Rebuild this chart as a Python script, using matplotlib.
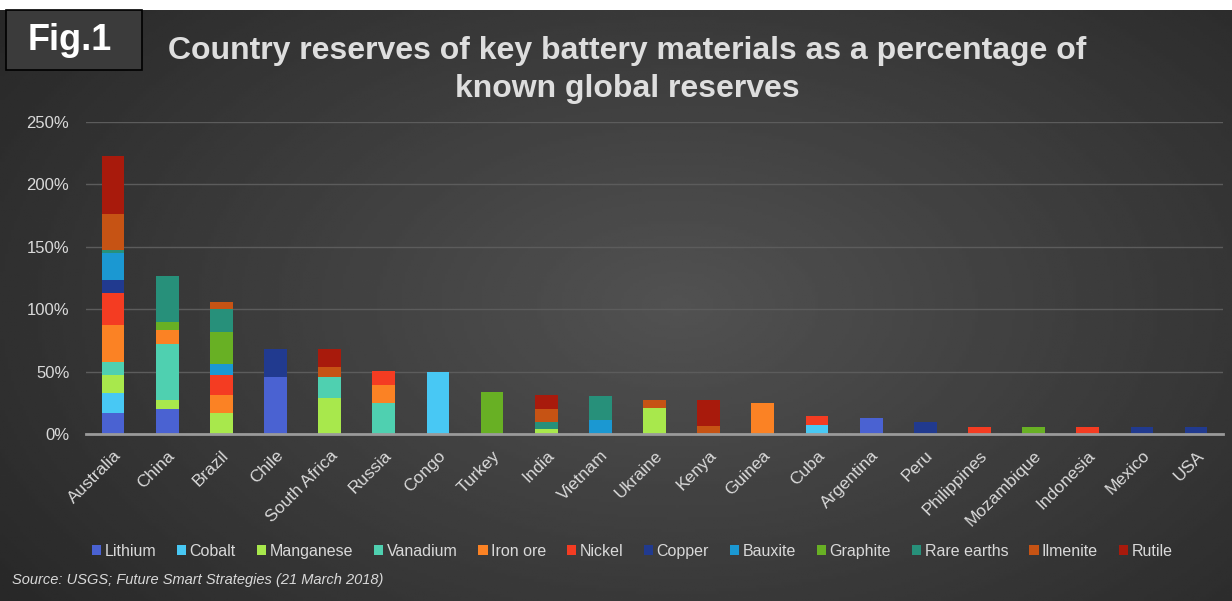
import numpy
import matplotlib as mpl
mpl.use('Agg')
import matplotlib.pyplot as plt
import matplotlib.patches as patches

#
#--- countries (x axis) and the materials (stack order, bottom to top)
#
countries = ['Australia', 'China', 'Brazil', 'Chile', 'South Africa', 'Russia', 'Congo',
             'Turkey', 'India', 'Vietnam', 'Ukraine', 'Kenya', 'Guinea', 'Cuba', 'Argentina',
             'Peru', 'Philippines', 'Mozambique', 'Indonesia', 'Mexico', 'USA']

materials = ['Lithium', 'Cobalt', 'Manganese', 'Vanadium', 'Iron ore', 'Nickel', 'Copper',
             'Bauxite', 'Graphite', 'Rare earths', 'Ilmenite', 'Rutile']

#
#--- percentage of known global reserves
#
lithium     = [16.6, 20.0,  0.0, 45.9,  0.0,  0.0,  0.0,  0.0,  0.0,  0.0,  0.0,  0.0,  0.0,  0.0, 12.6,  0.0, 0.0, 0.0, 0.0, 0.0, 0.0]
cobalt      = [16.0,  0.0,  0.0,  0.0,  0.0,  0.0, 49.7,  0.0,  0.0,  0.0,  0.0,  0.0,  0.0,  6.9,  0.0,  0.0, 0.0, 0.0, 0.0, 0.0, 0.0]
manganese   = [15.0,  7.2, 16.6,  0.0, 29.1,  0.0,  0.0,  0.0,  4.2,  0.0, 20.5,  0.0,  0.0,  0.0,  0.0,  0.0, 0.0, 0.0, 0.0, 0.0, 0.0]
vanadium    = [10.4, 44.9,  0.0,  0.0, 16.8, 24.8,  0.0,  0.0,  0.0,  0.0,  0.0,  0.0,  0.0,  0.0,  0.0,  0.0, 0.0, 0.0, 0.0, 0.0, 0.0]
iron_ore    = [29.0, 11.2, 14.7,  0.0,  0.0, 14.4,  0.0,  0.0,  0.0,  0.0,  0.0,  0.0, 24.8,  0.0,  0.0,  0.0, 0.0, 0.0, 0.0, 0.0, 0.0]
nickel      = [25.6,  0.0, 16.3,  0.0,  0.0, 11.2,  0.0,  0.0,  0.0,  0.0,  0.0,  0.0,  0.0,  7.8,  0.0,  0.0, 5.9, 0.0, 5.9, 0.0, 0.0]
copper      = [11.2,  0.0,  0.0, 22.0,  0.0,  0.0,  0.0,  0.0,  0.0,  0.0,  0.0,  0.0,  0.0,  0.0,  0.0,  9.9, 0.0, 0.0, 0.0, 5.6, 5.6]
bauxite     = [21.3,  0.0,  8.6,  0.0,  0.0,  0.0,  0.0,  0.0,  0.0, 10.9,  0.0,  0.0,  0.0,  0.0,  0.0,  0.0, 0.0, 0.0, 0.0, 0.0, 0.0]
graphite    = [ 0.0,  6.2, 25.6,  0.0,  0.0,  0.0,  0.0, 33.3,  0.0,  0.0,  0.0,  0.0,  0.0,  0.0,  0.0,  0.0, 0.0, 5.9, 0.0, 0.0, 0.0]
rare_earths = [ 2.0, 37.3, 18.7,  0.0,  0.0,  0.0,  0.0,  0.0,  5.8, 19.8,  0.0,  0.0,  0.0,  0.0,  0.0,  0.0, 0.0, 0.0, 0.0, 0.0, 0.0]
ilmenite    = [29.4,  0.0,  5.4,  0.0,  7.5,  0.0,  0.0,  0.0, 10.2,  0.0,  7.0,  6.1,  0.0,  0.0,  0.0,  0.0, 0.0, 0.0, 0.0, 0.0, 0.0]
rutile      = [46.7,  0.0,  0.0,  0.0, 14.4,  0.0,  0.0,  0.0, 11.2,  0.0,  0.0, 21.4,  0.0,  0.0,  0.0,  0.0, 0.0, 0.0, 0.0, 0.0, 0.0]

yticks       = [0, 50, 100, 150, 200, 250]
ytick_labels = ['0%', '50%', '100%', '150%', '200%', '250%']

colors = ['#4a62d2', '#48c8f4', '#a8e84c', '#4fd0b0', '#fb8224', '#f43c22',
          '#213a8f', '#1b98d2', '#68b024', '#27907a', '#c65314', '#a81a0c']

title  = 'Country reserves of key battery materials as a percentage of\nknown global reserves'
source = 'Source: USGS; Future Smart Strategies (21 March 2018)'

tcolor = '#d9d9d9'

#-------------------------------------------------------------------------------
#-- add_background: dark radial gradient behind the whole figure             ---
#-------------------------------------------------------------------------------

def add_background(fig):
    """
    draw a dark gray radial gradient as the figure background
    input:  fig --- figure
    output: none
    """
    bx = fig.add_axes([0, 0, 1, 591.0/601.0], zorder=-10)
    xx, yy = numpy.meshgrid(numpy.linspace(-1, 1, 400), numpy.linspace(-1, 1, 200))
    rr = numpy.sqrt((xx - 0.1)**2 + (0.8 * yy)**2)
    grad = 0.32 - 0.12 * rr
    bx.imshow(grad, cmap='gray', vmin=0, vmax=1, aspect='auto', extent=[0, 1, 0, 1])
    bx.set_axis_off()

#-------------------------------------------------------------------------------
#-- plot_data: stacked bar chart of reserves                                 ---
#-------------------------------------------------------------------------------

def plot_data():
    """
    create stacked bar chart of country reserves of battery materials
    input:  none
    output: out.png
    """
    series = [lithium, cobalt, manganese, vanadium, iron_ore, nickel, copper,
              bauxite, graphite, rare_earths, ilmenite, rutile]

    fig = plt.figure(figsize=(12.32, 6.01), dpi=100)
    fig.patch.set_facecolor('white')
    add_background(fig)

    ax = fig.add_axes([0.0698, 0.2779, 0.923, 0.519])
    ax.patch.set_alpha(0)

    xpos   = numpy.arange(len(countries))
    bottom = numpy.zeros(len(countries))
    for name, vals, col in zip(materials, series, colors):
        vals = numpy.array(vals)
        ax.bar(xpos, vals, 0.42, bottom=bottom, color=col, label=name, zorder=3)
        bottom += vals
#
#--- axes setting
#
    ax.set_xlim(-0.5, len(countries) - 0.5)
    ax.set_ylim(0, 250)
    ax.set_yticks(yticks)
    ax.set_yticklabels(ytick_labels, color=tcolor, fontsize=12, family='Liberation Sans')
    ax.set_xticks(xpos)
    ax.set_xticklabels(countries, rotation=45, ha='right', rotation_mode='anchor',
                       color=tcolor, fontsize=12.5, family='Liberation Sans')
    ax.tick_params(axis='both', length=0)
    ax.tick_params(axis='x', pad=10)
    ax.tick_params(axis='y', pad=12)

    for s in ['top', 'right', 'left']:
        ax.spines[s].set_visible(False)
    ax.spines['bottom'].set_color('#9a9a9a')
    ax.spines['bottom'].set_linewidth(2)
    ax.spines['bottom'].set_zorder(4)

    ax.grid(axis='y', color='#5c5c5c', lw=1, zorder=0)
    ax.set_axisbelow(True)
#
#--- legend
#
    leg = fig.legend(loc='center', bbox_to_anchor=(0.513, 0.083), ncol=12, frameon=False,
                     handlelength=0.6, handleheight=0.6, handletextpad=0.2,
                     columnspacing=1.3, prop={'family': 'Liberation Sans', 'size': 11.5})
    for t in leg.get_texts():
        t.set_color(tcolor)
#
#--- title, fig number box and source
#
    fig.text(0.509, 1 - 70.0/601, title, ha='center', va='center', color='#dedede', fontsize=23,
             fontweight='bold', family='Liberation Sans', linespacing=1.38)

    box = patches.Rectangle((6.0/1232, 1 - 70.0/601), 136.0/1232, 60.0/601, transform=fig.transFigure,
                            facecolor='#3b3b3b', edgecolor='black', lw=1.2, zorder=5)
    fig.patches.append(box)
    fig.text(70.0/1232, 1 - 40.0/601, 'Fig.1', ha='center', va='center', color='white',
             fontsize=26, fontweight='bold', family='Liberation Sans', zorder=6)

    fig.text(12.0/1232, 1 - 580.0/601, source, ha='left', va='center', color=tcolor,
             fontsize=10.5, style='italic', family='Liberation Sans')

    plt.savefig('out.png', dpi=100, facecolor=fig.get_facecolor())
    plt.close('all')


if __name__ == '__main__':

    plot_data()
